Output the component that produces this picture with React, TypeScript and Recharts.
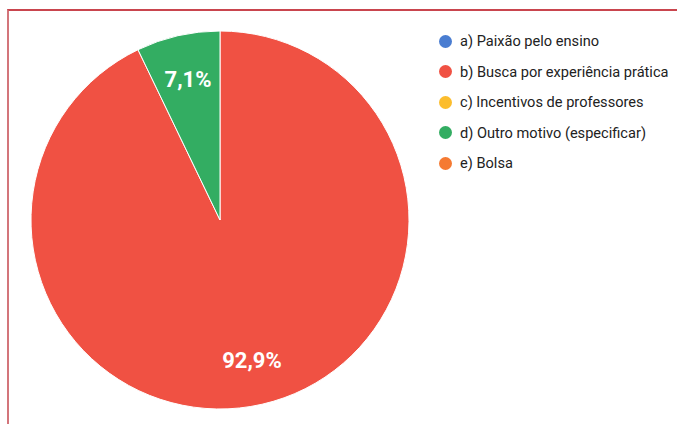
import React from 'react';
import { PieChart, Pie, Cell, Legend } from 'recharts';

const categories = [
  'a) Paixão pelo ensino',
  'b) Busca por experiência prática',
  'c) Incentivos de professores',
  'd) Outro motivo (especificar)',
  'e) Bolsa',
];
const counts = [0, 13, 0, 1, 0];
const colors = ['#4a7dd1', '#f05143', '#fcbd2d', '#33ad62', '#f57a32'];

const data = categories.map((name, i) => ({ name, value: counts[i] }));

const RADIAN = Math.PI / 180;

const renderLabel = (props: any) => {
  const { cx, cy, midAngle, outerRadius, percent } = props;
  if (!percent) return null;
  const r = outerRadius * 0.76;
  const x = cx + r * Math.cos(-midAngle * RADIAN);
  const y = cy + r * Math.sin(-midAngle * RADIAN);
  const txt = (percent * 100).toFixed(1).replace('.', ',') + '%';
  return (
    <text
      x={x}
      y={y}
      fill="#ffffff"
      textAnchor="middle"
      dominantBaseline="central"
      fontFamily="Roboto"
      fontWeight="bold"
      fontSize={22}
    >
      {txt}
    </text>
  );
};

const renderLegend = () => (
  <div style={{ fontFamily: 'Roboto', fontSize: 14.6, color: '#222222' }}>
    {categories.map((c, i) => (
      <div key={c} style={{ display: 'flex', alignItems: 'center', height: 30.5 }}>
        <span
          style={{
            width: 13,
            height: 13,
            borderRadius: '50%',
            background: colors[i],
            display: 'inline-block',
            marginRight: 8,
          }}
        />
        <span>{c}</span>
      </div>
    ))}
  </div>
);

const App = () => {
  return (
    <div style={{ position: 'absolute', left: 0, top: 0, width: 677, height: 424, background: '#fff' }}>
      <div
        style={{
          position: 'absolute',
          left: 7,
          top: 9,
          width: 670,
          height: 415,
          borderTop: '2px solid #c9454e',
          borderLeft: '2px solid #d3757b',
          boxSizing: 'border-box',
        }}
      />
      <PieChart width={677} height={424} margin={{ top: 0, right: 0, bottom: 0, left: 0 }}>
        <Pie
          data={data}
          dataKey="value"
          nameKey="name"
          cx={220}
          cy={220}
          outerRadius={189}
          startAngle={90}
          endAngle={-270}
          label={renderLabel}
          labelLine={false}
          isAnimationActive={false}
        >
          {data.map((d, i) => (
            <Cell key={d.name} fill={colors[i]} stroke={d.value ? '#ffffff' : 'none'} strokeWidth={1} />
          ))}
        </Pie>
        <Legend
          layout="vertical"
          align="right"
          verticalAlign="top"
          content={renderLegend}
          wrapperStyle={{ left: 439, top: 26, width: 238 }}
        />
      </PieChart>
    </div>
  );
};

export default App;
